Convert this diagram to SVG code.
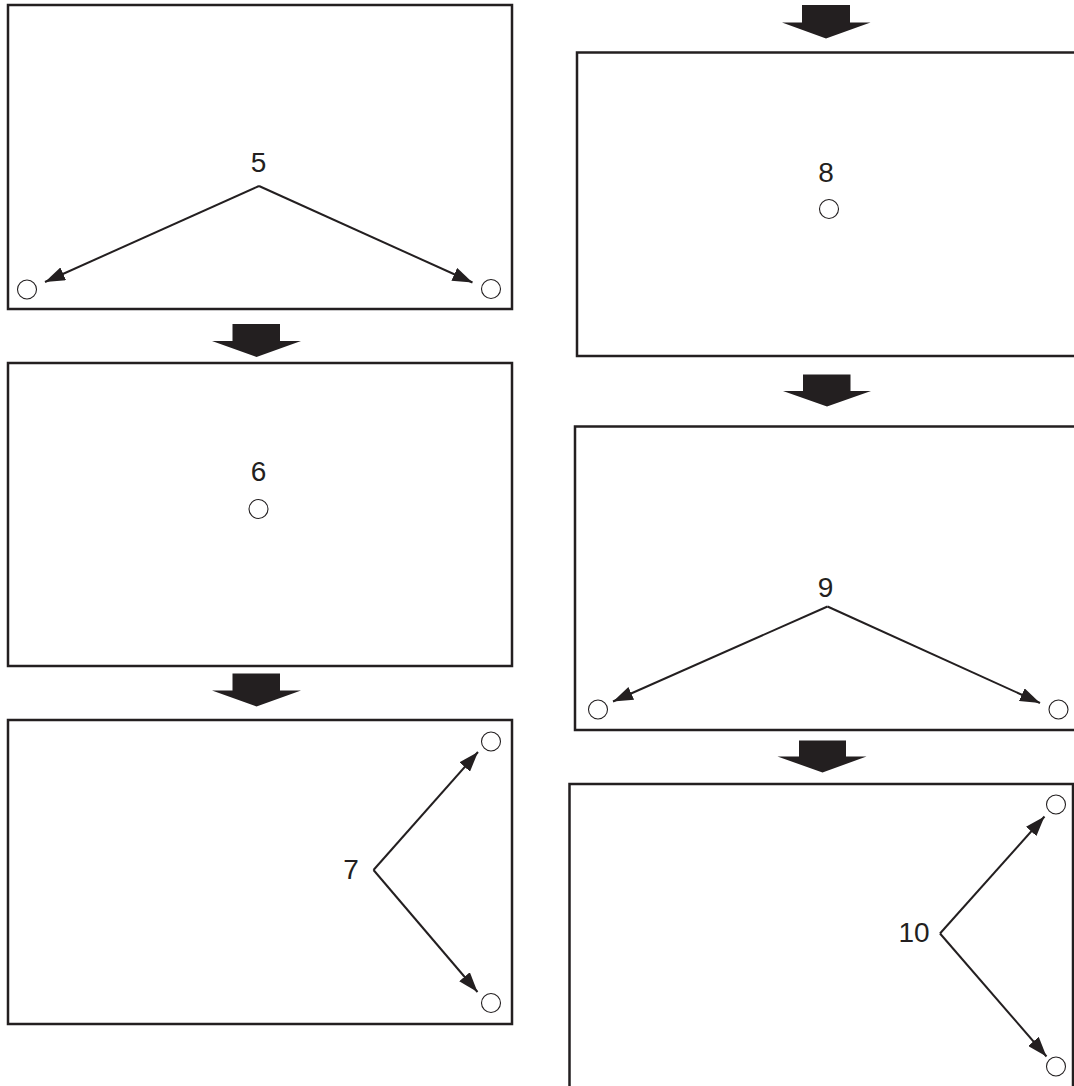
<svg xmlns="http://www.w3.org/2000/svg" width="1074" height="1086" viewBox="0 0 1074 1086">
  <style>
    .panel { fill: #ffffff; stroke: #231f20; stroke-width: 2.5; }
    .dot { fill: #ffffff; stroke: #231f20; stroke-width: 1.1; }
    .lbl { font-family: "Liberation Sans", Arial, sans-serif; font-size: 28px; fill: #231f20; text-anchor: middle; }
    .conn { fill: none; stroke: #231f20; stroke-width: 2; marker-end: url(#head); }
    .big { fill: #231f20; stroke: none; }
  </style>
  <defs>
    <marker id="head" markerUnits="userSpaceOnUse" viewBox="0 0 20 14" refX="20" refY="7" markerWidth="20" markerHeight="14" orient="auto">
      <path d="M0,0 L20,7 L0,14 Z" fill="#231f20"/>
    </marker>
  </defs>
  <rect width="1074" height="1086" fill="#ffffff"/>

  <g id="step5">
    <rect class="panel" x="8" y="5" width="504" height="304"/>
    <text class="lbl" x="258.5" y="172">5</text>
    <circle class="dot" cx="27" cy="289.5" r="9.5"/>
    <circle class="dot" cx="491" cy="289" r="9.5"/>
  </g>
  <g id="step6">
    <rect class="panel" x="8" y="363" width="504" height="303"/>
    <text class="lbl" x="258.5" y="481">6</text>
    <circle class="dot" cx="258.5" cy="509" r="9.5"/>
  </g>
  <g id="step7">
    <rect class="panel" x="8" y="720" width="504" height="304"/>
    <text class="lbl" x="351" y="879">7</text>
    <circle class="dot" cx="491" cy="741.5" r="9.5"/>
    <circle class="dot" cx="491" cy="1003" r="9.5"/>
  </g>
  <g id="step8">
    <rect class="panel" x="577" y="52.5" width="504" height="303.5"/>
    <text class="lbl" x="826" y="181.5">8</text>
    <circle class="dot" cx="829" cy="209" r="9.5"/>
  </g>
  <g id="step9">
    <rect class="panel" x="575" y="426.5" width="504" height="303.5"/>
    <text class="lbl" x="825.5" y="596.5">9</text>
    <circle class="dot" cx="598" cy="709.5" r="9.5"/>
    <circle class="dot" cx="1058.5" cy="709.5" r="9.5"/>
  </g>
  <g id="step10">
    <rect class="panel" x="569.5" y="784" width="503.5" height="310"/>
    <text class="lbl" x="914" y="941.5">10</text>
    <circle class="dot" cx="1056" cy="804.5" r="9.5"/>
    <circle class="dot" cx="1056" cy="1066.5" r="9.5"/>
  </g>

  <g id="connectors">
    <path class="conn" d="M259,186 L45,282"/>
    <path class="conn" d="M259,186 L472.5,282.5"/>
    <path class="conn" d="M373.5,870 L478,752"/>
    <path class="conn" d="M373.5,870 L477.5,992"/>
    <path class="conn" d="M827.5,606.5 L613,701.5"/>
    <path class="conn" d="M827.5,606.5 L1040,703"/>
    <path class="conn" d="M940,933.5 L1044.5,816.5"/>
    <path class="conn" d="M940,933.5 L1046.5,1056.5"/>

    <polygon class="big" points="232.5,324 280,324 280,341 301,341 256.5,357 212,341 232.5,341"/>
    <polygon class="big" points="232.5,673.5 280,673.5 280,690.5 301,690.5 256.5,706.5 212,690.5 232.5,690.5"/>
    <polygon class="big" points="802,5 850,5 850,22.5 870.5,22.5 826,38.5 782,22.5 802,22.5"/>
    <polygon class="big" points="803,374.5 850.5,374.5 850.5,391 871,391 827,406.5 783,391 803,391"/>
    <polygon class="big" points="799,740.5 846,740.5 846,756.5 866.5,756.5 822.5,772.5 777.5,756.5 799,756.5"/>
  </g>
</svg>
